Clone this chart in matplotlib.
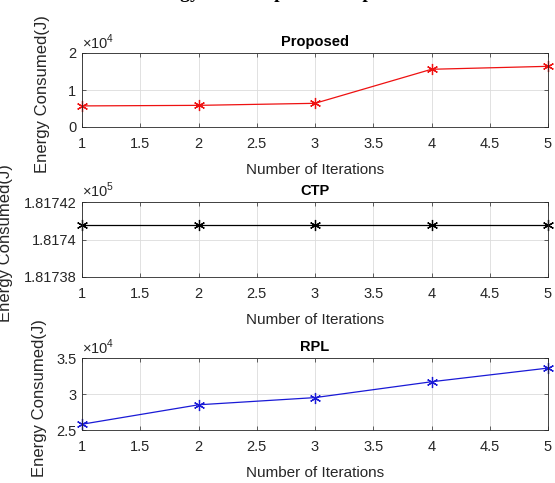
import matplotlib.pyplot as plt
from matplotlib.ticker import FuncFormatter

# data
iterations = [1, 2, 3, 4, 5]
proposed = [5700, 5850, 6400, 15600, 16400]
ctp = [181740.8, 181740.8, 181740.8, 181740.8, 181740.8]
rpl = [25800, 28500, 29500, 31700, 33600]

x_ticks = [1, 1.5, 2, 2.5, 3, 3.5, 4, 4.5, 5]
x_tick_labels = ["1", "1.5", "2", "2.5", "3", "3.5", "4", "4.5", "5"]

EDGE = "#262626"
FONT = "Liberation Sans"

fig = plt.figure(figsize=(5.55, 4.83), dpi=100)
plt.rcParams["font.family"] = FONT
plt.rcParams["mathtext.fontset"] = "custom"
plt.rcParams["mathtext.rm"] = FONT

# cropped caption above the figure (only the descenders show)
fig.text(139 / 555, 1 + 1.5 / 483, "Energy Consumption Comparison", family="Liberation Serif",
         fontweight="bold", fontsize=14, ha="left", va="baseline")

panels = [
    # title, data, color, ylim, yticks, scale, exponent, rect, ylabel x
    ("Proposed", proposed, "#ee1111", (0, 20000), [0, 10000, 20000], 1e4, 4,
     [82 / 555, 1 - 127 / 483, 466 / 555, 74 / 483], -0.068),
    ("CTP", ctp, "black", (181738, 181742), [181738, 181740, 181742], 1e5, 5,
     [82 / 555, 1 - 277 / 483, 466 / 555, 75 / 483], -0.148),
    ("RPL", rpl, "#1a1ad6", (25000, 35000), [25000, 30000, 35000], 1e4, 4,
     [82 / 555, 1 - 430 / 483, 466 / 555, 72 / 483], -0.076),
]

for title, values, color, ylim, yticks, scale, expo, rect, ylab_x in panels:
    ax = fig.add_axes(rect)
    ax.plot(iterations, values, color=color, linewidth=0.9,
            marker=(6, 2, 0), markersize=8, markeredgewidth=0.9, clip_on=False)
    ax.set_xlim(1, 5)
    ax.set_ylim(*ylim)
    ax.set_xticks(x_ticks)
    ax.set_xticklabels(x_tick_labels)
    ax.set_yticks(yticks)
    ax.yaxis.set_major_formatter(FuncFormatter(lambda v, p, s=scale: f"{v / s:.6g}"))
    ax.grid(True, color="#dcdcdc", linewidth=0.6)
    ax.set_axisbelow(True)
    ax.tick_params(direction="in", length=3, width=0.5, color=EDGE, labelcolor=EDGE,
                   labelsize=10.5, top=True, right=True, pad=7)
    ax.tick_params(axis="y", pad=4)
    for sp in ax.spines.values():
        sp.set_color(EDGE)
        sp.set_linewidth(0.6)
    ax.set_title(title, fontsize=10.5, fontweight="bold", pad=5)
    ax.set_xlabel("Number of Iterations", fontsize=11, color=EDGE, labelpad=9)
    ax.set_ylabel("Energy Consumed(J)", fontsize=12, color=EDGE)
    ax.yaxis.set_label_coords(ylab_x, 0.45)
    ax.text(0.0, 1.02, r"$\times$10$^{%d}$" % expo, transform=ax.transAxes,
            fontsize=10.5, color=EDGE, ha="left", va="bottom")

fig.savefig("out.png", dpi=100)
